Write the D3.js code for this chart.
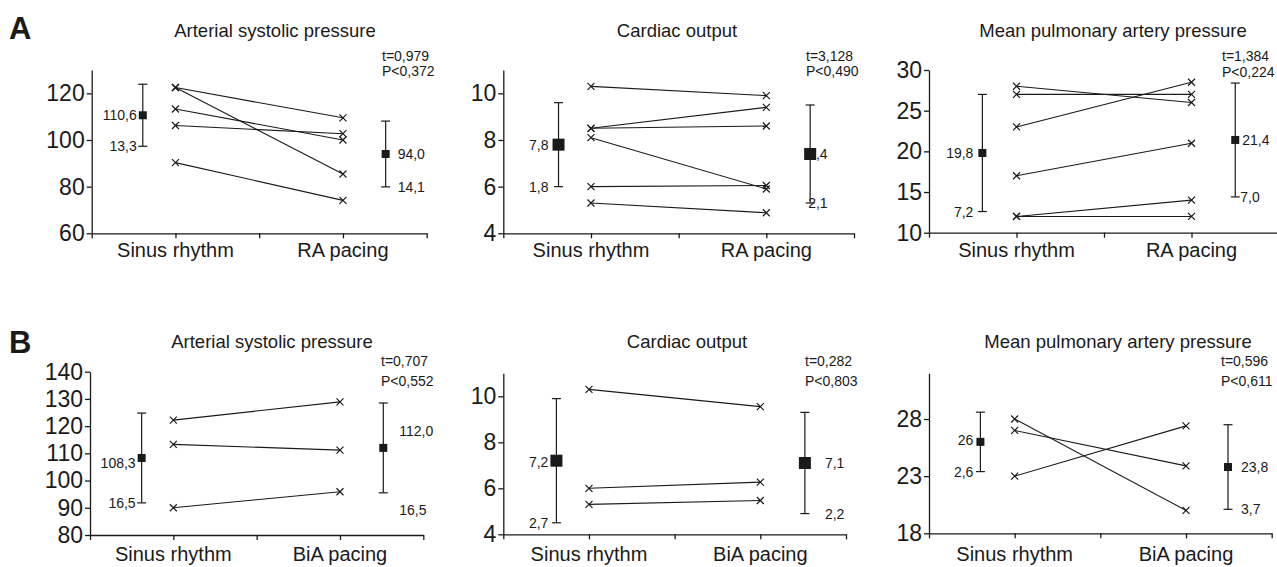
<!DOCTYPE html>
<html>
<head>
<meta charset="utf-8">
<script src="https://cdn.jsdelivr.net/npm/d3@7"></script>
<style>
    body { margin: 0; background: #fff; }
    svg { display: block; }
    text { font-family: "Liberation Sans", Arial, Helvetica, sans-serif; fill: #1a1a1a; }
</style>
</head>
<body>
<svg id="chart" width="1277" height="567"></svg>
<script>
// ---- data ----
const rowALabels = ["Sinus rhythm", "RA pacing"];
const rowBLabels = ["Sinus rhythm", "BiA pacing"];
const panelTitles = ["Arterial systolic pressure", "Cardiac output", "Mean pulmonary artery pressure"];

// row A (RA pacing)
const aspSinusA = [122.5, 122.5, 113.3, 106.2, 90.3];
const aspPacingA = [109.5, 85.4, 100.0, 102.7, 74.1];
const coSinusA = [10.3, 8.5, 8.5, 8.1, 6.0, 5.3];
const coPacingA = [9.9, 9.4, 8.6, 5.9, 6.05, 4.88];
const mpapSinusA = [28, 27, 23, 17, 12, 12];
const mpapPacingA = [26, 27, 28.5, 21, 14, 12];

// row B (BiA pacing)
const aspSinusB = [122.2, 113.3, 90.0];
const aspPacingB = [128.9, 111.2, 95.9];
const coSinusB = [10.3, 6.0, 5.3];
const coPacingB = [9.55, 6.27, 5.47];
const mpapSinusB = [28, 27, 23];
const mpapPacingB = [20, 23.9, 27.4];

// mean / SD, [sinus, pacing]
const meansA = [[110.6, 94.0], [7.8, 7.4], [19.8, 21.4]];
const sdsA = [[13.3, 14.1], [1.8, 2.1], [7.2, 7.0]];
const meansB = [[108.3, 112.0], [7.2, 7.1], [26, 23.8]];
const sdsB = [[16.5, 16.5], [2.7, 2.2], [2.6, 3.7]];

// printed mean / SD labels
const meanLabelsA = [["110,6", "94,0"], ["7,8", "7,4"], ["19,8", "21,4"]];
const sdLabelsA = [["13,3", "14,1"], ["1,8", "2,1"], ["7,2", "7,0"]];
const meanLabelsB = [["108,3", "112,0"], ["7,2", "7,1"], ["26", "23,8"]];
const sdLabelsB = [["16,5", "16,5"], ["2,7", "2,2"], ["2,6", "3,7"]];

// axes
const yDomains = [[60, 130], [4, 11], [10, 30], [80, 140], [4, 11], [18, 32]];
const yTicks = [[60, 80, 100, 120], [4, 6, 8, 10], [10, 15, 20, 25, 30],
                [80, 90, 100, 110, 120, 130, 140], [4, 6, 8, 10], [18, 23, 28]];

const tStats = ["t=0,979", "t=3,128", "t=1,384", "t=0,707", "t=0,282", "t=0,596"];
const pStats = ["P<0,372", "P<0,490", "P<0,224", "P<0,552", "P<0,803", "P<0,611"];

const panels = [
    { title: panelTitles[0], cats: rowALabels, sinus: aspSinusA, pacing: aspPacingA, mean: meansA[0], sd: sdsA[0], mLab: meanLabelsA[0], sLab: sdLabelsA[0] },
    { title: panelTitles[1], cats: rowALabels, sinus: coSinusA, pacing: coPacingA, mean: meansA[1], sd: sdsA[1], mLab: meanLabelsA[1], sLab: sdLabelsA[1] },
    { title: panelTitles[2], cats: rowALabels, sinus: mpapSinusA, pacing: mpapPacingA, mean: meansA[2], sd: sdsA[2], mLab: meanLabelsA[2], sLab: sdLabelsA[2] },
    { title: panelTitles[0], cats: rowBLabels, sinus: aspSinusB, pacing: aspPacingB, mean: meansB[0], sd: sdsB[0], mLab: meanLabelsB[0], sLab: sdLabelsB[0] },
    { title: panelTitles[1], cats: rowBLabels, sinus: coSinusB, pacing: coPacingB, mean: meansB[1], sd: sdsB[1], mLab: meanLabelsB[1], sLab: sdLabelsB[1] },
    { title: panelTitles[2], cats: rowBLabels, sinus: mpapSinusB, pacing: mpapPacingB, mean: meansB[2], sd: sdsB[2], mLab: meanLabelsB[2], sLab: sdLabelsB[2] },
].map((p, i) => ({ ...p, domain: yDomains[i], ticks: yTicks[i], t: tStats[i], p: pStats[i] }));

// ---- layout (pixels) ----
const layout = [
    { x0: 91.7, x1: 426.7, yTop: 70, yBottom: 233.3, titleX: 275, titleY: 37, statX: 382, statY: [56, 71],
      mPos: [0.61, 3.51], sq: 8, lOff: [6, 6], lDy: [0, 0], rOff: [12, 12], rDy: [0, 0], catDy: 24 },
    { x0: 503.3, x1: 854, yTop: 70, yBottom: 233.3, titleX: 677, titleY: 37, statX: 806, statY: [56, 71],
      mPos: [0.63, 3.5], sq: 12, lOff: [10, 10], lDy: [0, 0], rOff: [-2, -2], rDy: [0, 0], catDy: 24 },
    { x0: 929, x1: 1279, yTop: 70, yBottom: 232.7, titleX: 1113, titleY: 37, statX: 1222, statY: [56, 72],
      mPos: [0.61, 3.5], sq: 8, lOff: [9, 9], lDy: [0, 0], rOff: [7, 5], rDy: [0, 0], catDy: 24 },
    { x0: 90, x1: 423.3, yTop: 371.7, yBottom: 535, titleX: 272, titleY: 348, statX: 381, statY: [361, 381],
      mPos: [0.62, 3.52], sq: 8, lOff: [6, 6], lDy: [5, 0], rOff: [16, 16], rDy: [-17, 17], catDy: 26 },
    { x0: 503.3, x1: 846, yTop: 373.3, yBottom: 534.3, titleX: 687, titleY: 348, statX: 805, statY: [361, 381],
      mPos: [0.62, 3.52], sq: 12, lOff: [8, 8], lDy: [1, 0], rOff: [20, 20], rDy: [0, 0], catDy: 27 },
    { x0: 929, x1: 1271.7, yTop: 373.3, yBottom: 533.3, titleX: 1118, titleY: 348, statX: 1221, statY: [361, 381],
      mPos: [0.6, 3.49], sq: 8, lOff: [7, 7], lDy: [-2, 0], rOff: [13, 13], rDy: [0, 0], catDy: 28 },
];

const INK = "#1a1a1a";
const svg = d3.select("#chart");

// row letters
svg.append("text").attr("x", 9).attr("y", 39).attr("font-size", 31).attr("font-weight", "bold").text("A");
svg.append("text").attr("x", 9).attr("y", 353).attr("font-size", 31).attr("font-weight", "bold").text("B");

panels.forEach((d, i) => drawPanel(svg.append("g").attr("class", `panel panel-${i}`), d, layout[i]));

function drawPanel(g, d, L) {
    const x = d3.scaleLinear().domain([0, 4]).range([L.x0, L.x1]);
    const y = d3.scaleLinear().domain(d.domain).range([L.yBottom, L.yTop]);

    //title
    g.append("text")
        .attr("x", L.titleX).attr("y", L.titleY)
        .attr("text-anchor", "middle")
        .attr("font-size", 18.5)
        .text(d.title);

    //stats
    g.selectAll("text.stat").data([d.t, d.p]).enter()
        .append("text")
            .attr("class", "stat")
            .attr("x", L.statX).attr("y", (s, k) => L.statY[k])
            .attr("dominant-baseline", "central")
            .attr("font-size", 14)
            .text(s => s);

    //axes
    const yAxisG = g.append("g")
        .attr("transform", `translate(${L.x0},0)`)
        .call(d3.axisLeft(y).tickValues(d.ticks).tickFormat(d3.format("d"))
            .tickSize(5).tickSizeOuter(0).tickPadding(2));
    const xAxisG = g.append("g")
        .attr("transform", `translate(0,${L.yBottom})`)
        .call(d3.axisBottom(x).tickValues([0, 1, 2, 3, 4]).tickFormat("").tickSize(5).tickSizeOuter(0));
    [yAxisG, xAxisG].forEach(ax => {
        ax.attr("font-family", null).attr("font-size", null);
        ax.selectAll("path, line").attr("stroke", INK).attr("stroke-width", 1.3);
    });
    yAxisG.selectAll("text").attr("font-size", 23).attr("fill", INK);

    //category labels
    g.selectAll("text.cat").data(d.cats).enter()
        .append("text")
            .attr("class", "cat")
            .attr("x", (c, k) => x(1 + 2 * k))
            .attr("y", L.yBottom + L.catDy)
            .attr("text-anchor", "middle")
            .attr("font-size", 20)
            .text(c => c);

    //paired lines
    const pairs = d.sinus.map((v, k) => ({ a: v, b: d.pacing[k] }));
    g.selectAll("line.pair").data(pairs).enter()
        .append("line")
            .attr("class", "pair")
            .attr("x1", x(1)).attr("y1", p => y(p.a))
            .attr("x2", x(3)).attr("y2", p => y(p.b))
            .attr("stroke", INK).attr("stroke-width", 1.1);

    const crossPath = "M-3.5,-3.5L3.5,3.5M-3.5,3.5L3.5,-3.5";
    const crosses = pairs.flatMap(p => [{ cx: 1, v: p.a }, { cx: 3, v: p.b }]);
    g.selectAll("path.cross").data(crosses).enter()
        .append("path")
            .attr("class", "cross")
            .attr("d", crossPath)
            .attr("transform", c => `translate(${x(c.cx)},${y(c.v)})`)
            .attr("stroke", INK).attr("stroke-width", 1.2).attr("fill", "none");

    //mean +- SD
    const stats = [0, 1].map(k => ({ k, mean: d.mean[k], sd: d.sd[k], mLab: d.mLab[k], sLab: d.sLab[k], px: x(L.mPos[k]) }));

    //value labels (drawn first so the square sits on top)
    stats.forEach(s => {
        const left = s.k === 0;
        const off = left ? L.lOff : L.rOff;
        const dy = left ? L.lDy : L.rDy;
        const tx = k => left ? s.px - off[k] : s.px + off[k];
        g.append("text")
            .attr("x", tx(0)).attr("y", y(s.mean) + dy[0])
            .attr("text-anchor", left ? "end" : "start")
            .attr("dominant-baseline", "central")
            .attr("font-size", 14)
            .text(s.mLab);
        g.append("text")
            .attr("x", tx(1)).attr("y", y(s.mean - s.sd) + dy[1])
            .attr("text-anchor", left ? "end" : "start")
            .attr("dominant-baseline", "central")
            .attr("font-size", 14)
            .text(s.sLab);
    });

    const errG = g.selectAll("g.err").data(stats).enter()
        .append("g").attr("class", "err")
        .attr("transform", s => `translate(${s.px},0)`);
    errG.append("line")
        .attr("y1", s => y(s.mean - s.sd)).attr("y2", s => y(s.mean + s.sd))
        .attr("stroke", INK).attr("stroke-width", 1.2);
    errG.selectAll("line.cap").data(s => [s.mean - s.sd, s.mean + s.sd]).enter()
        .append("line").attr("class", "cap")
        .attr("x1", -4.5).attr("x2", 4.5)
        .attr("y1", v => y(v)).attr("y2", v => y(v))
        .attr("stroke", INK).attr("stroke-width", 1.2);
    errG.append("rect")
        .attr("x", -L.sq / 2).attr("width", L.sq).attr("height", L.sq)
        .attr("y", s => y(s.mean) - L.sq / 2)
        .attr("fill", INK);
}
</script>
</body>
</html>
